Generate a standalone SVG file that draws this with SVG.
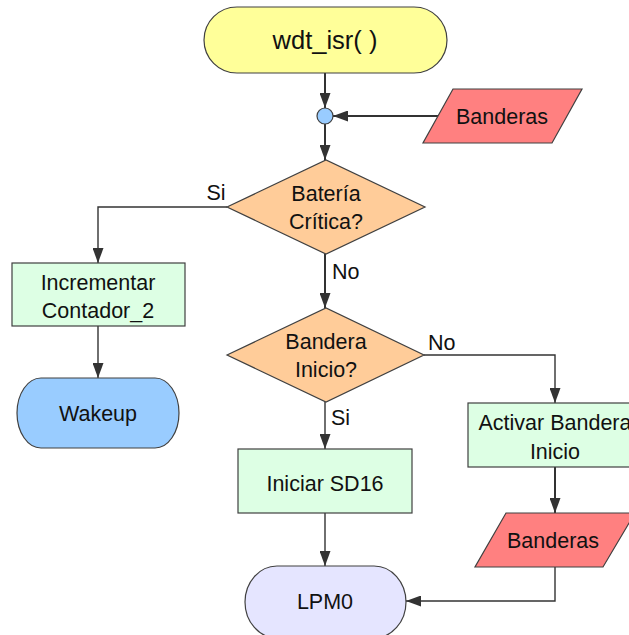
<svg xmlns="http://www.w3.org/2000/svg" width="629" height="635" viewBox="0 0 629 635">
  <defs>
    <marker id="arrow" markerUnits="userSpaceOnUse" markerWidth="15" markerHeight="11" refX="15" refY="5.5" orient="auto">
      <path d="M0,0 L15,5.5 L0,11 z" fill="#333333"/>
    </marker>
    <style>
      .shape { stroke: #404040; stroke-width: 1.2; }
      .terminal-start { fill: #FFFF99; }
      .junction { fill: #99CCFF; }
      .data { fill: #FF8080; }
      .decision { fill: #FFCC99; }
      .process { fill: #DDFFE4; }
      .wake { fill: #99CCFF; }
      .lpm { fill: #E5E5FF; }
      text { font-family: "Liberation Sans", Arial, sans-serif; font-size: 21.5px; fill: #111111; }
      .mid { text-anchor: middle; }
      .title { font-size: 25.5px; }
      .conn { fill: none; stroke: #333333; stroke-width: 1.4; }
      .conn-bold { fill: none; stroke: #333333; stroke-width: 2; }
    </style>
  </defs>

  <rect width="629" height="635" fill="#FFFFFF"/>

  <!-- connectors -->
  <g id="connectors">
    <line class="conn-bold" x1="325" y1="73" x2="325" y2="108" marker-end="url(#arrow)"/>
    <line class="conn-bold" x1="438" y1="116" x2="333" y2="116" marker-end="url(#arrow)"/>
    <line class="conn-bold" x1="325" y1="124" x2="325" y2="160" marker-end="url(#arrow)"/>
    <polyline class="conn" points="227,207 98,207 98,263" marker-end="url(#arrow)"/>
    <line class="conn-bold" x1="325" y1="254" x2="325" y2="308" marker-end="url(#arrow)"/>
    <line class="conn" x1="98" y1="326" x2="98" y2="378" marker-end="url(#arrow)"/>
    <line class="conn" x1="325" y1="402" x2="325" y2="449" marker-end="url(#arrow)"/>
    <polyline class="conn" points="424,355 555,355 555,403" marker-end="url(#arrow)"/>
    <line class="conn-bold" x1="555" y1="467" x2="555" y2="513" marker-end="url(#arrow)"/>
    <line class="conn" x1="325" y1="513" x2="325" y2="566" marker-end="url(#arrow)"/>
    <polyline class="conn" points="555,567 555,601 406,601" marker-end="url(#arrow)"/>
    <text x="216" y="200" class="mid">Si</text>
    <text x="332" y="279">No</text>
    <text x="428" y="350">No</text>
    <text x="331" y="425">Si</text>
  </g>

  <g id="start">
    <rect class="shape terminal-start" x="204" y="7" width="243" height="66" rx="33" ry="33"/>
    <text x="325" y="49" class="mid title">wdt_isr( )</text>
  </g>

  <g id="junction">
    <circle class="shape junction" cx="325" cy="116" r="8"/>
  </g>

  <g id="banderas-in">
    <polygon class="shape data" points="453,89 582,89 552,143 423,143"/>
    <text x="502" y="124" class="mid">Banderas</text>
  </g>

  <g id="bateria-critica">
    <polygon class="shape decision" points="227,207 326,160 425,207 326,254"/>
    <text x="326" y="201" class="mid">Batería</text>
    <text x="326" y="229" class="mid">Crítica?</text>
  </g>

  <g id="incrementar">
    <rect class="shape process" x="12" y="263" width="173" height="63"/>
    <text x="98" y="290" class="mid">Incrementar</text>
    <text x="98" y="318" class="mid">Contador_2</text>
  </g>

  <g id="wakeup">
    <rect class="shape wake" x="17" y="378" width="162" height="70" rx="24" ry="35"/>
    <text x="98" y="421" class="mid">Wakeup</text>
  </g>

  <g id="bandera-inicio">
    <polygon class="shape decision" points="227,355 326,308 424,355 326,402"/>
    <text x="326" y="349" class="mid">Bandera</text>
    <text x="326" y="377" class="mid">Inicio?</text>
  </g>

  <g id="activar-bandera">
    <rect class="shape process" x="468" y="403" width="174" height="64"/>
    <text x="555" y="430" class="mid">Activar Bandera</text>
    <text x="555" y="459" class="mid">Inicio</text>
  </g>

  <g id="iniciar-sd16">
    <rect class="shape process" x="238" y="449" width="174" height="64"/>
    <text x="325" y="491" class="mid">Iniciar SD16</text>
  </g>

  <g id="banderas-out">
    <polygon class="shape data" points="506,513 635,513 603,567 475,567"/>
    <text x="553" y="548" class="mid">Banderas</text>
  </g>

  <g id="lpm0">
    <rect class="shape lpm" x="245" y="566" width="161" height="72" rx="32" ry="36"/>
    <text x="325" y="609" class="mid">LPM0</text>
  </g>
</svg>
